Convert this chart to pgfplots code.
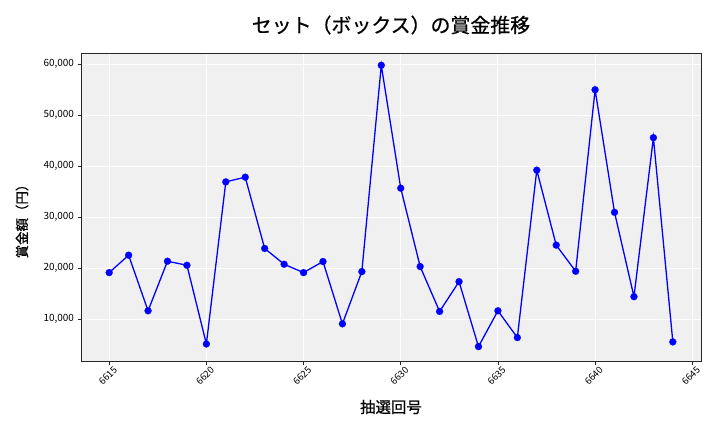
\documentclass[border=0pt]{standalone}
\usepackage{fontspec}
\setmainfont{Noto Sans CJK JP}
\newfontfamily\jp{Noto Sans CJK JP}
\newfontfamily\jpm{Noto Sans CJK JP}[FakeBold=0.7]
\usepackage{pgfplots}
\pgfplotsset{compat=1.18}

\definecolor{bgpanel}{HTML}{F0F0F0}

\begin{document}
\begin{tikzpicture}[x=1bp,y=1bp]
\path[use as bounding box] (0,0) rectangle (720,432);
\begin{axis}[
	at={(81bp,71bp)}, anchor=south west,
	scale only axis,
	width=620bp, height=308bp,
	xmin=6613.55, xmax=6645.45,
	ymin=1800, ymax=62150,
	axis background/.style={fill=bgpanel},
	axis line style={black!85, line width=0.9pt},
	grid=major,
	major grid style={white, line width=0.9pt},
	xtick={6615,6620,6625,6630,6635,6640,6645},
	xticklabels={6615,6620,6625,6630,6635,6640,6645},
	ytick={10000,20000,30000,40000,50000,60000},
	yticklabels={{10,000},{20,000},{30,000},{40,000},{50,000},{60,000}},
	scaled y ticks=false,
	tick align=outside,
	tick style={black!85, line width=0.7pt},
	major tick length=3.5bp,
	xtick pos=bottom, ytick pos=left,
	xticklabel style={font=\jp\fontsize{9.5}{10}\selectfont, xshift=7bp, yshift=-3bp, rotate=45, anchor=east, inner sep=1pt},
	yticklabel style={font=\jp\fontsize{10}{11}\selectfont},
	clip=false,
]
\addplot[blue, line width=1.3pt, mark=*, mark size=3.5pt, mark options={solid, fill=blue, draw=blue, line width=0.2pt}] coordinates {
(6615,19120) (6616,22530) (6617,11640) (6618,21350) (6619,20560)
(6620,5140) (6621,36900) (6622,37820) (6623,23850) (6624,20760)
(6625,19120) (6626,21290) (6627,9080) (6628,19320) (6629,59740)
(6630,35660) (6631,20300) (6632,11510) (6633,17350) (6634,4620)
(6635,11640) (6636,6390) (6637,39200) (6638,24500) (6639,19380)
(6640,54950) (6641,30930) (6642,14400) (6643,45560) (6644,5540)
};
\end{axis}
\node[font=\jpm\fontsize{20}{22}\selectfont] at (391,407) {セット（ボックス）の賞金推移};
\node[font=\jpm\fontsize{15.5}{18}\selectfont] at (391,25) {抽選回号};
\node[font=\jpm\fontsize{13.5}{16}\selectfont, rotate=90] at (22,214) {賞金額（円）};
\end{tikzpicture}
\end{document}
